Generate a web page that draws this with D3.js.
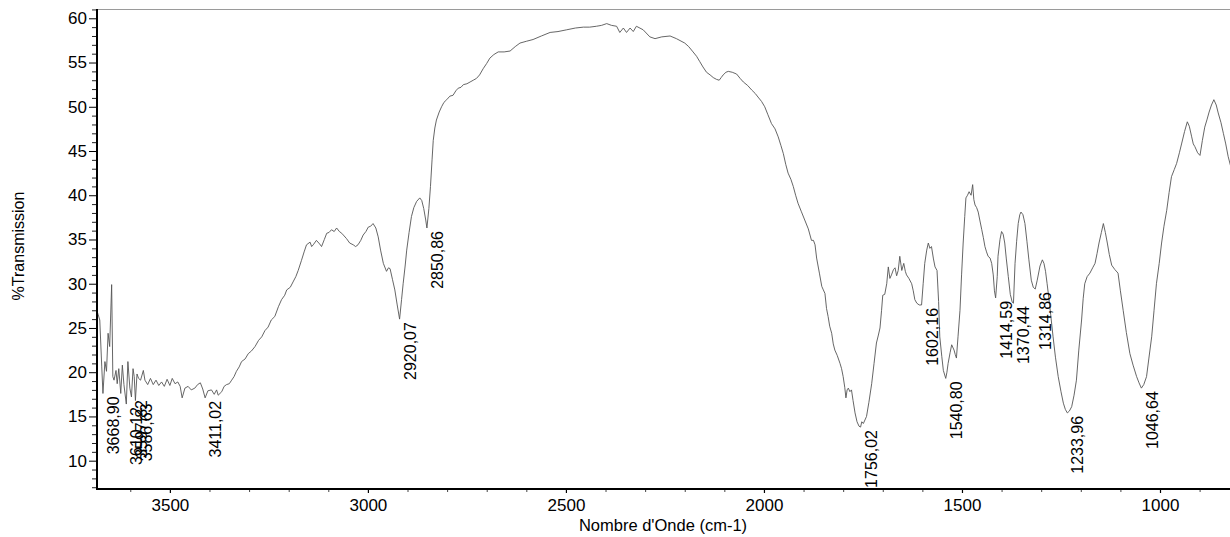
<!DOCTYPE html>
<html>
<head>
	<title> spectre IR </title>
	<script src="https://d3js.org/d3.v7.min.js"></script>
	<style>
		body { margin: 0; background: #fff; }
		svg { display: block; font-family: "Liberation Sans", Arial, sans-serif; }
	</style>
</head>
<body>
	<svg width="1230" height="537"></svg>
	<script type="text/javascript">
		// spectre : nombre d'onde (cm-1) et %T
		let wavenumber = [3684,3681,3677,3672,3669,3664,3660,3656,3652,3647,3644,3641,3636,3633,3629,3624,3620,3616,3610,3606,
			3601,3597,3593,3590,3587,3583,3579,3574,3567,3563,3556,3549,3542,3535,3528,3521,3514,3507,3500,3494,
			3487,3480,3474,3469,3462,3454,3446,3437,3430,3423,3417,3411,3404,3395,3388,3382,3378,3369,3363,3357,
			3350,3344,3338,3332,3325,3319,3310,3302,3294,3285,3276,3268,3260,3252,3244,3235,3226,3218,3210,3205,
			3196,3189,3182,3176,3168,3161,3155,3146,3142,3138,3130,3122,3117,3110,3104,3098,3092,3085,3079,3072,
			3066,3060,3054,3046,3037,3031,3025,3018,3012,3005,2999,2993,2987,2980,2974,2968,2961,2953,2948,2944,
			2938,2932,2926,2920,2915,2911,2906,2902,2896,2890,2884,2877,2869,2864,2859,2854,2851,2846,2842,2838,
			2835,2831,2827,2820,2814,2808,2801,2793,2785,2778,2772,2765,2759,2750,2742,2734,2726,2718,2709,2700,
			2692,2682,2671,2656,2641,2628,2616,2600,2583,2562,2540,2520,2498,2476,2456,2440,2423,2410,2397,2385,
			2372,2364,2355,2347,2338,2330,2322,2305,2288,2275,2258,2237,2221,2200,2190,2179,2170,2162,2154,2145,
			2136,2128,2120,2113,2108,2103,2096,2090,2080,2069,2060,2052,2041,2031,2022,2015,2006,1998,1990,1981,
			1972,1964,1957,1951,1945,1939,1932,1926,1920,1914,1906,1897,1888,1880,1875,1871,1867,1860,1854,1850,
			1846,1842,1838,1834,1829,1825,1821,1815,1808,1804,1800,1796,1793,1790,1787,1783,1779,1775,1770,1765,
			1760,1756,1753,1749,1745,1741,1735,1728,1722,1716,1711,1707,1703,1700,1695,1690,1686,1682,1678,1673,
			1669,1665,1661,1657,1652,1647,1643,1640,1634,1627,1623,1619,1614,1608,1602,1598,1594,1589,1585,1581,
			1577,1572,1568,1563,1559,1556,1551,1547,1541,1538,1535,1530,1526,1520,1517,1514,1510,1505,1501,1497,
			1493,1490,1486,1482,1477,1473,1470,1467,1463,1459,1455,1450,1446,1442,1438,1434,1429,1425,1421,1418,
			1415,1411,1409,1404,1400,1396,1392,1388,1383,1378,1373,1370,1366,1362,1358,1354,1351,1346,1341,1336,
			1331,1325,1320,1315,1310,1303,1297,1293,1289,1285,1282,1276,1270,1264,1257,1250,1244,1239,1234,1229,
			1223,1217,1211,1205,1198,1194,1190,1184,1177,1170,1164,1159,1154,1148,1143,1138,1133,1128,1122,1114,
			1106,1100,1093,1085,1076,1068,1059,1053,1047,1041,1034,1028,1021,1015,1009,1002,996,990,983,977,
			971,964,958,951,945,938,931,926,920,916,912,905,899,893,887,881,876,870,864,858,
			853,846,840,834,828,820,810];
		let transmission = [26.9,26.5,25.9,20.6,17.6,21.2,20.1,24.4,22.9,29.9,19.5,19.1,20.2,18.7,20.4,17.6,20.8,18.6,16.4,21.2,
			18.2,17.2,20.4,19.5,16.8,19.8,19.3,19.1,20.2,19.1,18.6,19.3,18.6,19.1,18.5,18.9,18.4,19.2,18.5,19.3,
			18.7,18.9,18.4,17.1,18.2,18.4,18.0,18.2,18.6,18.8,18.1,17.1,17.9,18.0,17.5,18.0,17.4,17.8,18.4,18.6,
			18.7,19.1,19.5,20.1,20.6,21.2,21.5,22.1,22.4,22.9,23.6,24.0,24.7,25.1,25.9,26.3,27.4,28.2,28.7,29.3,
			29.6,30.2,30.8,31.5,32.6,33.6,34.4,34.7,34.2,34.4,34.9,34.5,34.2,35.0,35.7,35.8,36.1,35.9,36.3,35.9,
			35.7,35.4,35.1,34.6,34.4,34.2,34.4,34.9,35.5,35.9,36.4,36.5,36.8,36.3,35.3,33.8,32.3,31.4,31.8,31.7,
			30.5,29.3,27.6,26.0,28.2,30.0,32.0,33.8,35.8,37.6,38.6,39.3,39.7,39.4,38.5,37.2,36.3,38.5,41.0,44.0,
			46.2,47.6,48.5,49.4,50.0,50.5,50.8,51.2,51.3,51.8,52.1,52.2,52.5,52.6,52.8,53.0,53.2,53.6,54.3,54.9,
			55.5,55.9,56.2,56.2,56.3,56.8,57.2,57.4,57.6,58.0,58.4,58.5,58.7,58.9,59.0,59.0,59.1,59.2,59.4,59.2,
			59.1,58.4,58.9,58.4,58.9,58.5,59.1,58.7,57.9,57.7,57.9,58.0,57.7,57.2,56.8,56.2,55.7,55.1,54.5,53.9,
			53.6,53.3,53.1,53.0,53.3,53.6,53.9,54.0,53.9,53.7,53.2,52.8,52.4,51.9,51.5,51.1,50.6,50.0,49.1,48.1,
			47.5,46.6,45.6,44.7,43.5,42.5,41.8,41.0,40.0,39.1,38.2,37.2,36.2,34.9,34.9,34.4,32.9,31.2,29.7,29.3,
			28.9,27.2,26.3,25.2,24.4,23.2,22.5,21.9,21.0,20.4,19.5,18.3,17.1,18.0,18.2,17.8,18.0,16.8,15.4,14.4,
			13.9,13.8,14.4,14.2,14.6,15.0,16.6,18.7,21.0,23.3,24.2,25.0,27.0,28.7,28.8,30.0,31.9,30.6,31.0,31.6,
			31.8,30.9,31.5,33.1,31.5,32.3,31.4,31.0,30.6,30.0,29.2,28.2,27.8,27.6,27.6,30.0,32.3,33.8,34.6,34.0,
			34.2,32.8,31.9,31.5,28.0,24.0,21.8,20.2,19.3,20.0,21.0,22.2,23.1,22.5,22.0,21.6,24.0,27.0,31.0,34.6,
			37.6,39.7,40.0,40.4,40.0,41.2,39.5,38.9,38.6,38.1,37.2,36.1,35.2,34.2,33.6,33.1,32.9,32.3,31.0,29.2,
			28.4,30.8,33.1,35.0,35.9,35.6,34.6,32.8,30.8,28.8,27.9,27.8,32.3,34.8,36.8,37.8,38.1,37.8,36.8,34.8,
			32.7,30.4,29.6,29.4,30.4,32.0,32.7,32.3,31.4,30.0,28.9,26.5,24.0,21.7,19.5,17.8,16.5,15.8,15.4,15.6,
			16.1,17.4,19.1,22.5,25.9,28.3,30.0,30.8,31.2,31.8,32.3,33.4,34.6,35.8,36.8,35.8,34.6,33.3,32.1,31.6,
			31.2,29.2,27.0,24.5,22.1,20.8,19.5,18.8,18.2,18.6,19.5,21.6,24.0,27.0,30.0,32.3,34.6,36.5,38.3,40.3,
			42.1,42.9,43.6,44.8,45.9,47.2,48.3,47.8,46.6,45.8,45.5,44.8,44.5,46.2,47.7,48.6,49.4,50.2,50.8,50.2,
			49.3,48.2,47.0,45.8,44.4,43.0,41.5];

		// pics annotés
		let peakWn = [3668.90, 3610.12, 3597.82, 3586.63, 3411.02, 2920.07, 2850.86, 1756.02, 1602.16, 1540.80, 1414.59, 1370.44, 1314.86, 1233.96, 1046.64];
		let peakText = ["3668,90", "3610,12", "3597,82", "3586,63", "3411,02", "2920,07", "2850,86", "1756,02", "1602,16", "1540,80", "1414,59", "1370,44", "1314,86", "1233,96", "1046,64"];

		let xTicks = [3500, 3000, 2500, 2000, 1500, 1000];
		let yTicks = [10, 15, 20, 25, 30, 35, 40, 45, 50, 55, 60];

		let svg = d3.select("svg");
		const mLeft = 97, mRight = 1240, mTop = 9, mBottom = 489;

		let x = d3.scaleLinear().domain([3684, 798]).range([mLeft, mRight]);
		let y = d3.scaleLinear().domain([6.8, 61.05]).range([mBottom, mTop]);

		// cadre du haut (gris fin)
		svg.append("line")
			.attr("x1", mLeft).attr("x2", mRight)
			.attr("y1", mTop + 0.5).attr("y2", mTop + 0.5)
			.attr("stroke", "#9a9a9a").attr("stroke-width", 1);

		// ticks mineurs
		let yMinor = d3.range(7, 62, 1).filter(v => v % 5 != 0);
		let xMinor = d3.range(3600, 799, -100).filter(v => v % 500 != 0);

		svg.append("g").attr("transform", "translate(" + mLeft + ",0)")
			.call(d3.axisLeft(y).tickValues(yMinor).tickSize(5).tickFormat(""))
			.call(g => g.select(".domain").remove())
			.selectAll("line").attr("stroke", "#222");

		svg.append("g").attr("transform", "translate(0," + mBottom + ")")
			.call(d3.axisBottom(x).tickValues(xMinor).tickSize(3).tickFormat(""))
			.call(g => g.select(".domain").remove())
			.selectAll("line").attr("stroke", "#444");

		// axe Y
		let yAxis = svg.append("g").attr("transform", "translate(" + mLeft + ",0)")
			.call(d3.axisLeft(y).tickValues(yTicks).tickSize(8).tickPadding(2).tickFormat(d3.format("d")));
		yAxis.select(".domain").remove();
		yAxis.selectAll("text").attr("font-size", 17).attr("font-family", "Liberation Sans, Arial, sans-serif").attr("fill", "#000");
		yAxis.selectAll("line").attr("stroke", "#000");

		// axe X
		let xAxis = svg.append("g").attr("transform", "translate(0," + mBottom + ")")
			.call(d3.axisBottom(x).tickValues(xTicks).tickSize(4).tickPadding(6).tickFormat(d3.format("d")));
		xAxis.select(".domain").remove();
		xAxis.selectAll("text").attr("font-size", 17).attr("font-family", "Liberation Sans, Arial, sans-serif").attr("fill", "#000");
		xAxis.selectAll("line").attr("stroke", "#000").attr("stroke-width", 1.2);

		// traits d'axe épais
		svg.append("line").attr("x1", mLeft).attr("x2", mLeft).attr("y1", mTop).attr("y2", mBottom + 1)
			.attr("stroke", "#000").attr("stroke-width", 2);
		svg.append("line").attr("x1", mLeft - 1).attr("x2", mRight).attr("y1", mBottom).attr("y2", mBottom)
			.attr("stroke", "#000").attr("stroke-width", 2);

		// spectre
		svg.append("clipPath").attr("id", "plot")
			.append("rect").attr("x", mLeft + 1).attr("y", mTop).attr("width", mRight - mLeft).attr("height", mBottom - mTop);

		let pts = wavenumber.map((w, i) => [w, transmission[i]]);
		svg.append("path")
			.datum(pts)
			.attr("clip-path", "url(#plot)")
			.attr("fill", "none")
			.attr("stroke", "#555")
			.attr("stroke-width", 0.9)
			.attr("stroke-linejoin", "round")
			.attr("d", d3.line().x(d => x(d[0])).y(d => y(d[1])));

		// étiquettes des pics : sous le minimum, texte vertical
		function valueAt(w) {
			let best = 0;
			for (let i = 0; i < wavenumber.length; i++) {
				if (Math.abs(wavenumber[i] - w) < Math.abs(wavenumber[best] - w)) best = i;
			}
			return transmission[best];
		}
		svg.selectAll(".peak").data(peakWn).join("text")
			.attr("class", "peak")
			.attr("transform", (d) => "translate(" + (x(d) + 16) + "," + (y(valueAt(d)) + 3) + ") rotate(-90)")
			.attr("text-anchor", "end")
			.attr("font-size", 16)
			.attr("fill", "#000")
			.text((d, i) => peakText[i]);

		// titres
		svg.append("text")
			.attr("x", 663).attr("y", 531)
			.attr("text-anchor", "middle")
			.attr("font-size", 16.5)
			.text("Nombre d'Onde (cm-1)");
		svg.append("text")
			.attr("transform", "translate(24,246) rotate(-90)")
			.attr("text-anchor", "middle")
			.attr("font-size", 16)
			.text("%Transmission");
	</script>
</body>
</html>
